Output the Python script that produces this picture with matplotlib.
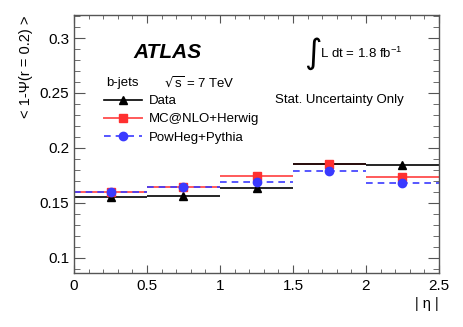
import numpy as np
import matplotlib
matplotlib.use("Agg")
import matplotlib.pyplot as plt
from matplotlib.lines import Line2D
from matplotlib.ticker import MultipleLocator

plt.rcParams['font.family'] = ['Liberation Sans', 'DejaVu Sans']

# bins in |eta|
bin_lo = [0.0, 0.5, 1.0, 1.5, 2.0]
bin_hi = [0.5, 1.0, 1.5, 2.0, 2.5]
data = [0.155, 0.156, 0.163, 0.185, 0.184]
herwig = [0.160, 0.164, 0.174, 0.185, 0.173]
pythia = [0.160, 0.164, 0.169, 0.179, 0.168]

centers = [(a + b) / 2 for a, b in zip(bin_lo, bin_hi)]
half = [(b - a) / 2 for a, b in zip(bin_lo, bin_hi)]

W, H = 463, 327
fig = plt.figure(figsize=(W / 100, H / 100), dpi=100)
ax = fig.add_axes([74 / W, 1 - 273 / H, (439 - 74) / W, (273 - 15) / H])

red_line = '#ff5a5a'
red_mk = '#ff3030'
blue = '#3a3aff'

ax.errorbar(centers, herwig, xerr=half, fmt='none', ecolor=red_line, elinewidth=1.4, capsize=0)
ax.errorbar(centers, data, xerr=half, fmt='none', ecolor='black', elinewidth=1.2, capsize=0)
# dashed horizontal lines for pythia
for lo, hi, v in zip(bin_lo, bin_hi, pythia):
    ax.plot([lo, hi], [v, v], color=blue, lw=1.2, ls=(0, (4, 3)))
ax.plot(centers, herwig, 's', color=red_mk, ms=6, zorder=4)
ax.plot(centers, pythia, 'o', color=blue, ms=6, zorder=5)
ax.plot(centers, data, '^', color='black', ms=6, zorder=3)

ax.set_xlim(0, 2.5)
ax.set_ylim(0.086, 0.321)
ax.xaxis.set_minor_locator(MultipleLocator(0.1))
ax.yaxis.set_minor_locator(MultipleLocator(0.01))
ax.set_xticks([0, 0.5, 1, 1.5, 2, 2.5])
ax.set_xticklabels(['0', '0.5', '1', '1.5', '2', '2.5'])
ax.set_yticks([0.1, 0.15, 0.2, 0.25, 0.3])
ax.set_yticklabels(['0.1', '0.15', '0.2', '0.25', '0.3'])
ax.tick_params(axis='both', which='both', direction='in', top=True, right=True,
               labelsize=11, color='#555555')
ax.tick_params(axis='y', which='major', length=8)
ax.tick_params(axis='y', which='minor', length=4)
ax.tick_params(axis='x', which='major', length=5.5)
ax.tick_params(axis='x', which='minor', length=2.8)
ax.tick_params(axis='x', pad=4)
for s in ax.spines.values():
    s.set_color('#555555')
    s.set_linewidth(1.0)

ax.set_ylabel('< 1-\u03a8(r = 0.2) >', fontsize=10.5, loc='top', labelpad=5)
ax.set_xlabel('| \u03b7 |', fontsize=10.5, loc='right', labelpad=3)

fig.text(133 / W, 1 - 52 / H, 'ATLAS', fontsize=15, fontweight='bold', fontstyle='italic', va='center')
fig.text(106 / W, 1 - 83 / H, 'b-jets', fontsize=9.5, va='center')
fig.text(164 / W, 1 - 83 / H, r'$\sqrt{\mathregular{s}}$ = 7 TeV', fontsize=9.5, va='center')
fig.text(304 / W, 1 - 54 / H, r'$\int$', fontsize=17, va='center')
fig.text(320 / W, 1 - 53 / H, r'L dt = 1.8 fb$^{\mathregular{-1}}$', fontsize=9.5, va='center')
fig.text(275 / W, 1 - 100 / H, 'Stat. Uncertainty Only', fontsize=9.5, va='center')

handles = [
    Line2D([], [], color='black', lw=1.2, marker='^', ms=6),
    Line2D([], [], color=red_line, lw=1.4, marker='s', ms=6, mfc=red_mk, mec=red_mk),
    Line2D([], [], color=blue, lw=1.2, ls=(0, (4, 3)), marker='o', ms=6),
]
labels = ['Data', 'MC@NLO+Herwig', 'PowHeg+Pythia']
fig.legend(handles, labels, loc='upper left', bbox_to_anchor=(104 / W, 1 - 95 / H),
           frameon=False, fontsize=9.5, handlelength=2.9, handletextpad=0.5,
           labelspacing=0.45, borderaxespad=0, borderpad=0)

fig.savefig('out.png', dpi=100)
